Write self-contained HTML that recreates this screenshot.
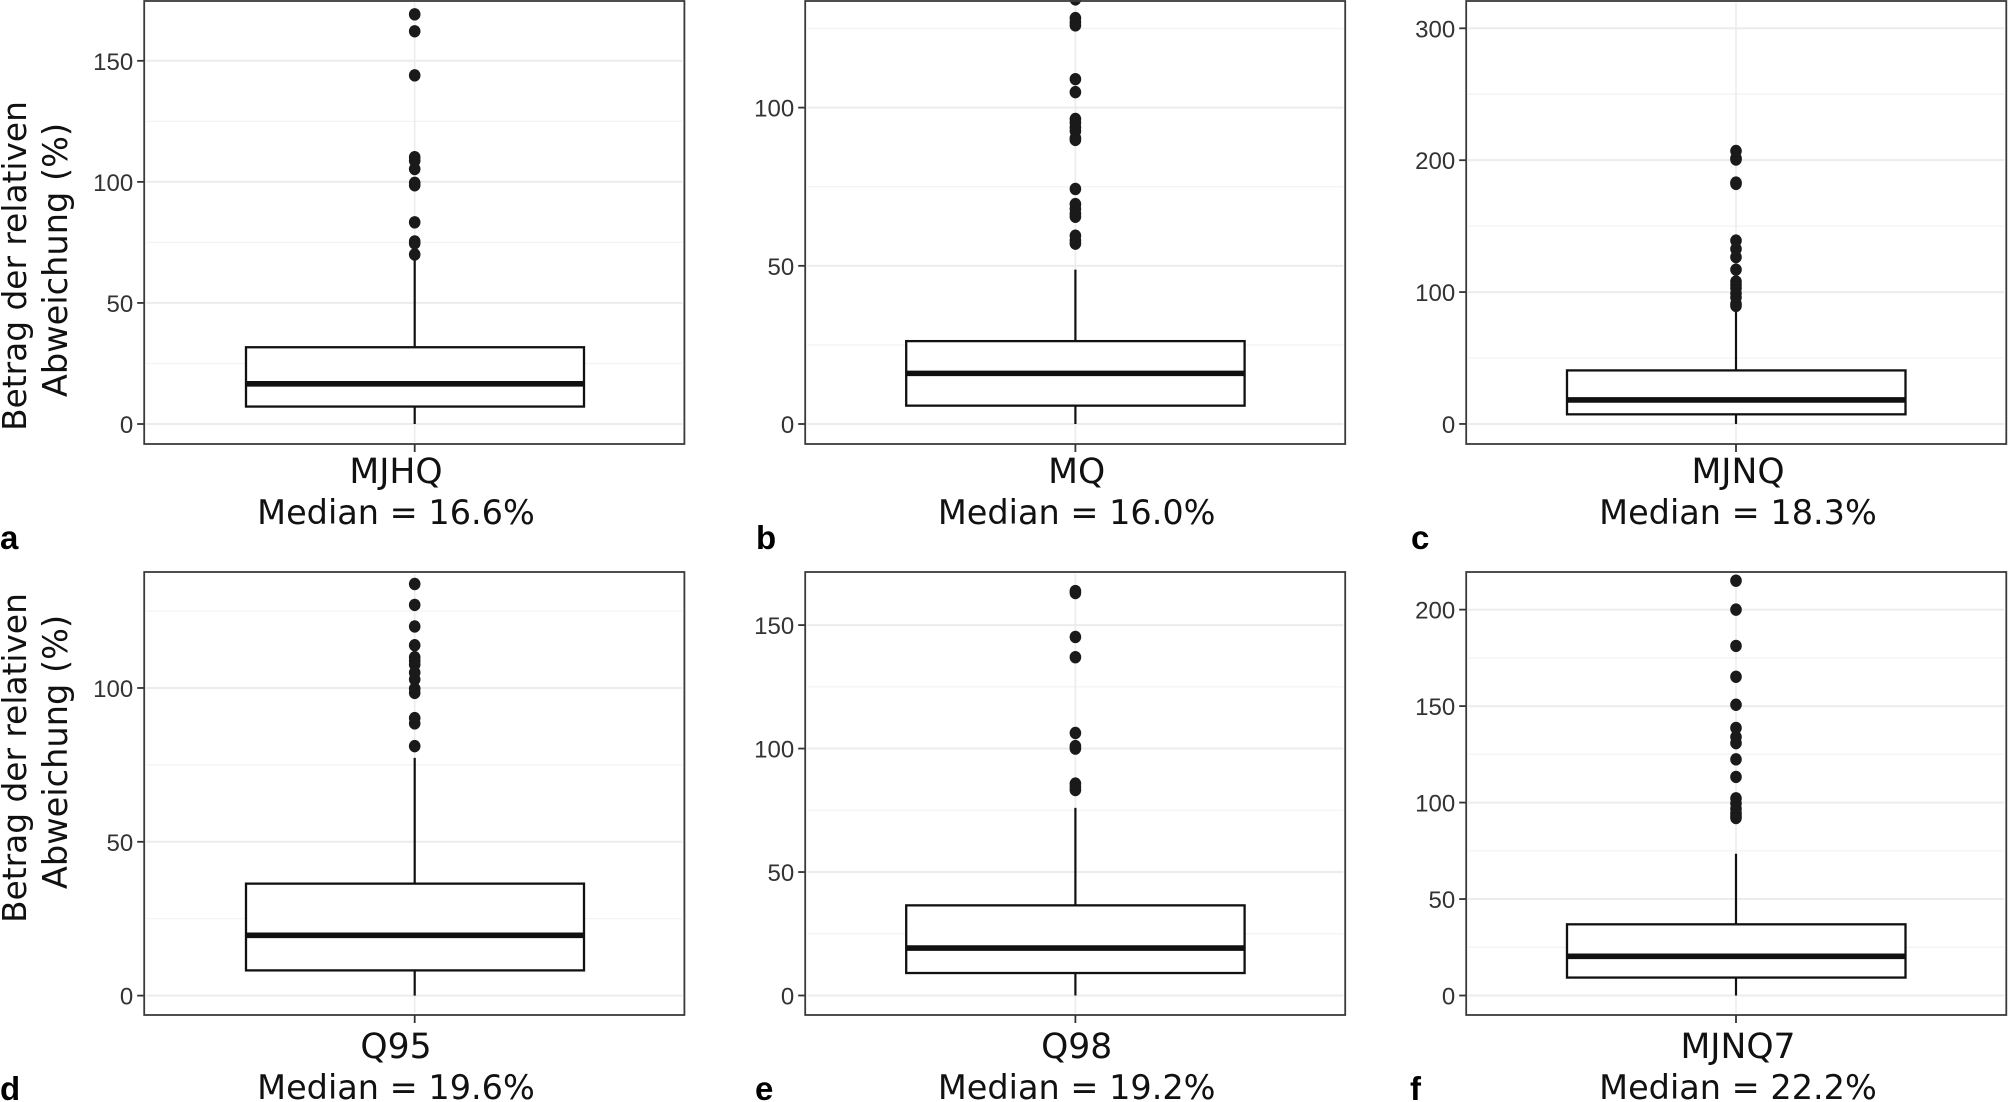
<!DOCTYPE html>
<html lang="de">
<head>
<meta charset="utf-8">
<title>Betrag der relativen Abweichung – Boxplots</title>
<style>
html,body{margin:0;padding:0;background:#fff;}
body{width:2008px;height:1102px;overflow:hidden;}
svg{display:block;}
.axis-text{font-family:"DejaVu Sans",sans-serif;fill:#111;}
.tick-text{font-family:"Liberation Sans",sans-serif;font-size:24px;fill:#333;}
.letter{font-family:"Liberation Sans",sans-serif;font-weight:bold;font-size:33px;fill:#000;}
</style>
</head>
<body>
<svg id="chart" xmlns="http://www.w3.org/2000/svg" width="2008" height="1102" viewBox="0 0 2008 1102">
  <rect x="0" y="0" width="2008" height="1102" fill="#fff"/>
  <g id="panels"></g>
  <text class="axis-text" font-size="32.8" text-anchor="middle" transform="translate(26,266) rotate(-90)">Betrag der relativen</text>
  <text class="axis-text" font-size="33.6" text-anchor="middle" transform="translate(67,260) rotate(-90)">Abweichung (%)</text>
  <text class="axis-text" font-size="32.8" text-anchor="middle" transform="translate(26,758) rotate(-90)">Betrag der relativen</text>
  <text class="axis-text" font-size="33.6" text-anchor="middle" transform="translate(67,752) rotate(-90)">Abweichung (%)</text>
  <text class="letter" x="0" y="549">a</text>
  <text class="letter" x="756" y="549">b</text>
  <text class="letter" x="1411" y="549">c</text>
  <text class="letter" x="0" y="1100">d</text>
  <text class="letter" x="755" y="1100">e</text>
  <text class="letter" x="1410" y="1100">f</text>
</svg>
<script>
// ---- data ----
const categories = ['MJHQ', 'MQ', 'MJNQ', 'Q95', 'Q98', 'MJNQ7'];
const medianLabels = ['Median = 16.6%', 'Median = 16.0%', 'Median = 18.3%', 'Median = 19.6%', 'Median = 19.2%', 'Median = 22.2%'];
const q1Values = [7.2, 5.8, 7.3, 8.2, 9.1, 9.3];
const medianValues = [16.6, 16.0, 18.2, 19.6, 19.2, 20.3];
const q3Values = [31.7, 26.2, 40.6, 36.4, 36.5, 36.9];
const whiskerLowValues = [0, 0, 0, 0, 0, 0];
const whiskerHighValues = [70, 48.8, 88, 77.3, 76, 73.5];
const outliersA = [169.2, 162.2, 144, 110.2, 108.7, 105.3, 99.6, 98.6, 83.3, 75.4, 74.6, 70];
const outliersB = [134.2, 128.3, 127, 126, 109, 104.9, 96.4, 95.2, 93.8, 92.6, 90.4, 89.8, 74.3, 69.5, 68, 66.5, 65.5, 59.5, 58, 57];
const outliersC = [207, 201.5, 200.5, 183, 182, 139, 132.7, 126.5, 117, 108, 105.5, 103, 99, 96, 91, 89.5];
const outliersD = [133.8, 127, 120, 113.9, 110, 108.8, 107.6, 105, 102.8, 99.8, 98.4, 90.2, 88.5, 81.1];
const outliersE = [163.8, 163, 145.2, 137, 106.3, 101, 100, 85.8, 84.5, 83.2];
const outliersF = [215, 200, 181.2, 165.2, 150.7, 138.7, 134, 130.8, 122.4, 113.3, 102.2, 99.6, 96.8, 94.6, 93.2, 92];
const outlierSets = [outliersA, outliersB, outliersC, outliersD, outliersE, outliersF];
const tickLabelsA = [0, 50, 100, 150];
const tickLabelsB = [0, 50, 100];
const tickLabelsC = [0, 100, 200, 300];
const tickLabelsD = [0, 50, 100];
const tickLabelsE = [0, 50, 100, 150];
const tickLabelsF = [0, 50, 100, 150, 200];
const tickSets = [tickLabelsA, tickLabelsB, tickLabelsC, tickLabelsD, tickLabelsE, tickLabelsF];
const yDomainMin = [-8.26, -6.32, -15.2, -6.3, -7.9, -10.1];
const yDomainMax = [174.7, 133.7, 320.7, 137.7, 171.5, 219.5];

// ---- layout ----
const columns = [
  {left: 144.2, right: 684.4, cx: 414.7, boxL: 246, boxR: 584, textX: 396},
  {left: 805.2, right: 1345.2, cx: 1075.4, boxL: 906.2, boxR: 1244.6, textX: 1076.7},
  {left: 1466.2, right: 2006.3, cx: 1736, boxL: 1567, boxR: 1905.5, textX: 1738}
];
const rows = [
  {top: 1, bottom: 444, catY: 483, medY: 524},
  {top: 572, bottom: 1015, catY: 1058, medY: 1099}
];
const NS = 'http://www.w3.org/2000/svg';
const root = document.getElementById('panels');

function make(parent, tag, attrs, text) {
  const el = document.createElementNS(NS, tag);
  for (const k in attrs) el.setAttribute(k, attrs[k]);
  if (text !== undefined) el.textContent = text;
  parent.appendChild(el);
  return el;
}

function drawPanel(i) {
  const col = columns[i % 3];
  const row = rows[i < 3 ? 0 : 1];
  const dMin = yDomainMin[i], dMax = yDomainMax[i];
  const yScale = function (v) {
    return row.bottom - (v - dMin) / (dMax - dMin) * (row.bottom - row.top);
  };
  const ticks = tickSets[i];
  const step = ticks[1] - ticks[0];

  const panel = make(root, 'g', {});
  
  

  // minor grid
  for (let k = 0; k < ticks.length + 1; k++) {
    const mv = ticks[0] + step * (k + 0.5);
    if (mv >= dMax) continue;
    const minor = make(panel, 'line', {x1: col.left + 2, x2: col.right - 2, y1: yScale(mv), y2: yScale(mv), stroke: '#f3f3f3', 'stroke-width': 1.2});
    
    
  }
  // major grid + y ticks + labels
  ticks.forEach(function (t) {
    const y = yScale(t);
    const grid = make(panel, 'line', {x1: col.left + 2, x2: col.right - 2, y1: y, y2: y, stroke: '#ececec', 'stroke-width': 2});
    
    
    const tick = make(panel, 'line', {x1: col.left - 7, x2: col.left, y1: y, y2: y, stroke: '#333', 'stroke-width': 1.8});
    
    
    const label = make(panel, 'text', {x: col.left - 11, y: y + 9, 'text-anchor': 'end', class: 'tick-text'}, String(t));
    
    
  });
  // vertical grid
  const vgrid = make(panel, 'line', {x1: col.cx, x2: col.cx, y1: row.top + 2, y2: row.bottom - 2, stroke: '#ececec', 'stroke-width': 1.6});
  
  

  // whiskers
  const whiskerUp = make(panel, 'line', {x1: col.cx, x2: col.cx, y1: yScale(q3Values[i]), y2: yScale(whiskerHighValues[i]), stroke: '#111', 'stroke-width': 2.2});
  
  
  const whiskerDown = make(panel, 'line', {x1: col.cx, x2: col.cx, y1: yScale(q1Values[i]), y2: yScale(whiskerLowValues[i]), stroke: '#111', 'stroke-width': 2.2});
  
  

  // box
  const box = make(panel, 'rect', {x: col.boxL, y: yScale(q3Values[i]), width: col.boxR - col.boxL, height: yScale(q1Values[i]) - yScale(q3Values[i]), fill: '#fff', stroke: '#111', 'stroke-width': 2.3});
  
  
  const med = make(panel, 'line', {x1: col.boxL, x2: col.boxR, y1: yScale(medianValues[i]), y2: yScale(medianValues[i]), stroke: '#111', 'stroke-width': 5.6});
  
  

  // outliers
  outlierSets[i].forEach(function (v) {
    const pt = make(panel, 'ellipse', {cx: col.cx, cy: yScale(v), rx: 5.8, ry: 6.2, fill: '#1a1a1a'});
    
    
  });

  // frame
  const frame = make(panel, 'rect', {x: col.left, y: row.top, width: col.right - col.left, height: row.bottom - row.top, fill: 'none', stroke: '#3a3a3a', 'stroke-width': 1.8});
  
  

  // x tick + labels
  const xTick = make(panel, 'line', {x1: col.cx, x2: col.cx, y1: row.bottom, y2: row.bottom + 8, stroke: '#333', 'stroke-width': 1.8});
  
  
  const cat = make(panel, 'text', {x: col.textX, y: row.catY, 'text-anchor': 'middle', class: 'axis-text', 'font-size': 34.6}, categories[i]);
  
  
  const medText = make(panel, 'text', {x: col.textX, y: row.medY, 'text-anchor': 'middle', class: 'axis-text', 'font-size': 33.5}, medianLabels[i]);
  
  
}

for (let i = 0; i < categories.length; i++) drawPanel(i);
</script>
</body>
</html>
